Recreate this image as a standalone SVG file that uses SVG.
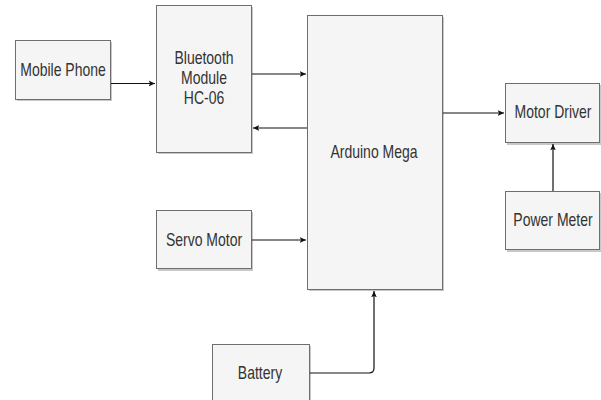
<svg xmlns="http://www.w3.org/2000/svg" width="601" height="400" viewBox="0 0 601 400">
<style>
.box{fill:#f5f5f5;stroke:#6e6e6e;stroke-width:1}
.sh{fill:#c8c8c8;stroke:none}
.t{font-family:"Liberation Sans",Arial,sans-serif;font-size:14px;fill:#333;text-anchor:middle}
.c{fill:none;stroke:#111;stroke-width:1.2}
</style>
<defs>
<marker id="ah" viewBox="0 0 10 10" refX="9" refY="5" markerWidth="7" markerHeight="7" orient="auto" markerUnits="userSpaceOnUse">
<path d="M0,1 L9,5 L0,9 L2,5 Z" fill="#111"/>
</marker>
</defs>
<rect width="601" height="400" fill="#fff"/>
<g id="mobile"><rect class="sh" x="17" y="42" width="95" height="59"/><rect class="box" x="15.5" y="40.5" width="95" height="59"/><text class="t" transform="translate(63,76) scale(1,1.25)">Mobile Phone</text></g>
<g id="bluetooth"><rect class="sh" x="158" y="7" width="95" height="147"/><rect class="box" x="156.5" y="5.5" width="95" height="147"/><text class="t" transform="translate(204,64) scale(1,1.25)">Bluetooth</text><text class="t" transform="translate(204,84) scale(1,1.25)">Module</text><text class="t" transform="translate(204,104) scale(1,1.25)">HC-06</text></g>
<g id="arduino"><rect class="sh" x="309" y="17" width="135" height="274"/><rect class="box" x="307.5" y="15.5" width="135" height="274"/><text class="t" transform="translate(374,158) scale(1,1.25)">Arduino Mega</text></g>
<g id="motordriver"><rect class="sh" x="507" y="85" width="94" height="60"/><rect class="box" x="505.5" y="83.5" width="94" height="59"/><text class="t" transform="translate(553,118) scale(1,1.25)">Motor Driver</text></g>
<g id="powermeter"><rect class="sh" x="507" y="193" width="94" height="59"/><rect class="box" x="505.5" y="191.5" width="94" height="58"/><text class="t" transform="translate(553,226) scale(1,1.25)">Power Meter</text></g>
<g id="servo"><rect class="sh" x="158" y="212" width="95" height="59"/><rect class="box" x="156.5" y="210.5" width="95" height="58"/><text class="t" transform="translate(204,246) scale(1,1.25)">Servo Motor</text></g>
<g id="battery"><rect class="sh" x="214" y="346" width="97" height="60"/><rect class="box" x="212.5" y="344.5" width="97" height="60"/><text class="t" transform="translate(260,379) scale(1,1.25)">Battery</text></g>
<g id="connectors">
<path class="c" d="M111,83.5 H155" marker-end="url(#ah)"/>
<path class="c" d="M252,74 H306" marker-end="url(#ah)"/>
<path class="c" d="M307,128 H253" marker-end="url(#ah)"/>
<path class="c" d="M252,240 H306" marker-end="url(#ah)"/>
<path class="c" d="M443,113 H504" marker-end="url(#ah)"/>
<path class="c" d="M553,191 V144" marker-end="url(#ah)"/>
<path class="c" d="M310,373 H369 Q374,373 374,368 V291" marker-end="url(#ah)"/>
</g>
</svg>
